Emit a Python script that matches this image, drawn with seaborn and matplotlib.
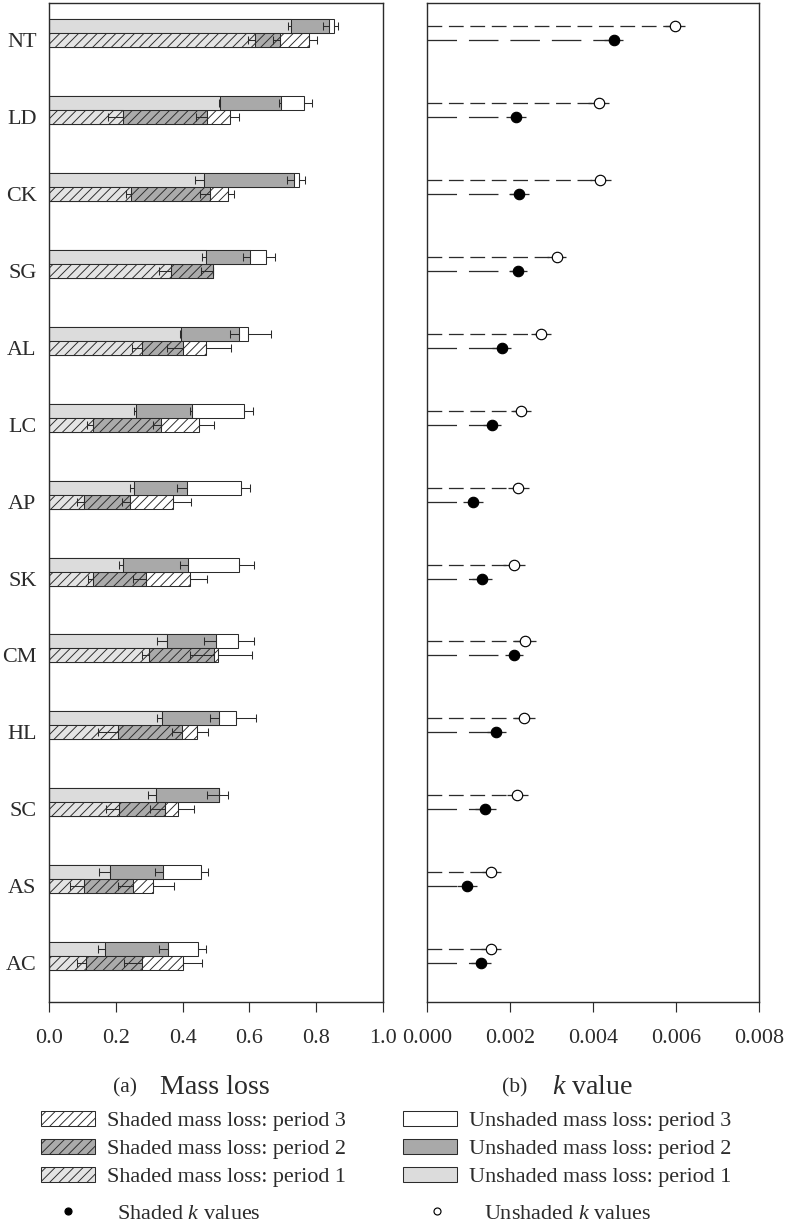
import numpy as np
import pandas as pd
import matplotlib
matplotlib.use("Agg")
import matplotlib.pyplot as plt
import seaborn as sns
from matplotlib.patches import Patch
from matplotlib.lines import Line2D

# -------------------------------------------------------
# DATA
# -------------------------------------------------------

sites = ["NT", "LD", "CK", "SG", "AL", "LC", "AP", "SK", "CM", "HL", "SC", "AS", "AC"]

# cumulative mass loss at the end of each period
unshaded_p1 = [0.726, 0.513, 0.463, 0.470, 0.395, 0.260, 0.255, 0.222, 0.354, 0.338, 0.320, 0.182, 0.168]
unshaded_p2 = [0.838, 0.695, 0.733, 0.603, 0.569, 0.428, 0.413, 0.416, 0.501, 0.508, 0.510, 0.342, 0.356]
unshaded_p3 = [0.853, 0.765, 0.748, 0.651, 0.595, 0.584, 0.575, 0.568, 0.565, 0.561, 0.510, 0.455, 0.446]
unshaded_e1 = [0.011, 0.005, 0.025, 0.012, 0.003, 0.005, 0.013, 0.012, 0.032, 0.015, 0.023, 0.033, 0.023]
unshaded_e2 = [0.017, 0.005, 0.020, 0.022, 0.028, 0.005, 0.030, 0.025, 0.036, 0.025, 0.037, 0.025, 0.028]
unshaded_e3 = [0.012, 0.023, 0.020, 0.025, 0.070, 0.027, 0.026, 0.045, 0.048, 0.058, 0.026, 0.020, 0.024]

shaded_p1 = [0.618, 0.222, 0.245, 0.364, 0.277, 0.130, 0.104, 0.132, 0.299, 0.205, 0.209, 0.104, 0.110]
shaded_p2 = [0.691, 0.473, 0.481, 0.490, 0.402, 0.335, 0.242, 0.290, 0.493, 0.398, 0.347, 0.250, 0.279]
shaded_p3 = [0.780, 0.541, 0.536, 0.490, 0.471, 0.450, 0.372, 0.421, 0.505, 0.444, 0.385, 0.312, 0.402]
shaded_e1 = [0.023, 0.045, 0.015, 0.034, 0.030, 0.018, 0.020, 0.015, 0.022, 0.058, 0.039, 0.042, 0.026]
shaded_e2 = [0.020, 0.032, 0.028, 0.034, 0.050, 0.023, 0.025, 0.038, 0.072, 0.030, 0.045, 0.043, 0.054]
shaded_e3 = [0.023, 0.027, 0.017, 0.000, 0.074, 0.043, 0.052, 0.052, 0.103, 0.031, 0.048, 0.063, 0.055]

# decomposition rate k
k_unshaded = [0.00598, 0.00414, 0.00418, 0.00313, 0.00275, 0.00228, 0.00221, 0.00210, 0.00237, 0.00235, 0.00218, 0.00156, 0.00154]
k_unshaded_err = [0.00024, 0.00026, 0.00026, 0.00023, 0.00025, 0.00024, 0.00026, 0.00026, 0.00026, 0.00025, 0.00025, 0.00024, 0.00024]
k_shaded = [0.00450, 0.00216, 0.00222, 0.00220, 0.00181, 0.00158, 0.00111, 0.00134, 0.00211, 0.00168, 0.00141, 0.00098, 0.00131]
k_shaded_err = [0.00022, 0.00024, 0.00024, 0.00022, 0.00023, 0.00022, 0.00024, 0.00024, 0.00022, 0.00024, 0.00025, 0.00024, 0.00024]

mass_ticks = [0.0, 0.2, 0.4, 0.6, 0.8, 1.0]
k_ticks = [0.000, 0.002, 0.004, 0.006, 0.008]

# -------------------------------------------------------
# STYLE
# -------------------------------------------------------

W, H, DPI = 787, 1225, 84
INK = "#2b2b2b"
HATCH = "///"

sns.set_theme(style="ticks")
plt.rcParams["font.family"] = ["Liberation Serif", "DejaVu Serif"]
plt.rcParams["mathtext.fontset"] = "custom"
plt.rcParams["mathtext.rm"] = "Liberation Serif"
plt.rcParams["mathtext.it"] = "Liberation Serif:italic"
plt.rcParams["hatch.linewidth"] = 0.8
plt.rcParams["text.color"] = INK
plt.rcParams["xtick.color"] = INK
plt.rcParams["ytick.color"] = INK
plt.rcParams["axes.edgecolor"] = INK


def fx(px):
    return px / W


def fy(py):
    return 1 - py / H


colors_u = ["#dcdcdc", "#a9a9a9", "#ffffff"]
colors_s = ["#e4e4e4", "#ababab", "#ffffff"]

fig = plt.figure(figsize=(W / DPI, H / DPI), dpi=DPI)
ax1 = fig.add_axes([fx(49.3), fy(1001.7), fx(382.7) - fx(49.3), fy(3.3) - fy(1001.7)])
ax2 = fig.add_axes([fx(426.7), fy(1001.7), fx(759) - fx(426.7), fy(3.3) - fy(1001.7)])

pos = np.arange(len(sites))
bar_h = 0.182
y_top, y_bot = -0.39, 12.594

# -------------------------------------------------------
# (a) MASS LOSS - stacked (overlaid cumulative) bars
# -------------------------------------------------------

layers = [(unshaded_p3, shaded_p3, 2), (unshaded_p2, shaded_p2, 1), (unshaded_p1, shaded_p1, 0)]
for u_vals, s_vals, i in layers:
    df = pd.DataFrame({
        "site": sites * 2,
        "loss": list(u_vals) + list(s_vals),
        "treatment": ["Unshaded"] * len(sites) + ["Shaded"] * len(sites),
    })
    sns.barplot(data=df, x="loss", y="site", hue="treatment", order=sites,
                hue_order=["Unshaded", "Shaded"], dodge=True, width=2 * bar_h,
                palette={"Unshaded": colors_u[i], "Shaded": colors_s[i]},
                saturation=1, errorbar=None, edgecolor=INK, linewidth=0.9,
                legend=False, ax=ax1)
    for p in ax1.containers[-1]:
        p.set_hatch(HATCH)

zeros = np.zeros(len(sites))
err_sets = [
    (unshaded_p1, unshaded_e1, -bar_h / 2, "in"), (unshaded_p2, unshaded_e2, -bar_h / 2, "in"),
    (unshaded_p3, unshaded_e3, -bar_h / 2, "out"),
    (shaded_p1, shaded_e1, bar_h / 2, "in"), (shaded_p2, shaded_e2, bar_h / 2, "in"),
    (shaded_p3, shaded_e3, bar_h / 2, "out"),
]
for vals, errs, off, side in err_sets:
    errs = np.array(errs)
    xerr = [errs, zeros] if side == "in" else [zeros, errs]
    ax1.errorbar(vals, pos + off, xerr=xerr, fmt="none", ecolor=INK,
                 elinewidth=0.9, capsize=3.4, capthick=0.9, zorder=5)

ax1.set_xlim(0, 1.0)
ax1.set_ylim(y_bot, y_top)
ax1.set_yticks(pos + bar_h / 2)
ax1.set_yticklabels(sites)
ax1.set_xticks(mass_ticks)
ax1.set_xticklabels([f"{t:.1f}" for t in mass_ticks])
ax1.set_xlabel("")
ax1.set_ylabel("")

# -------------------------------------------------------
# (b) k VALUES
# -------------------------------------------------------

ax2.hlines(pos - bar_h / 2, 0, k_unshaded, colors=INK, linewidth=1.1,
           linestyles=[(0, (11.5, 5.2))])
ax2.hlines(pos + bar_h / 2, 0, k_shaded, colors=INK, linewidth=1.1,
           linestyles=[(0, (23.0, 9.3))])
ax2.errorbar(k_unshaded, pos - bar_h / 2, xerr=k_unshaded_err, fmt="none",
             ecolor=INK, elinewidth=1.1, capsize=0, zorder=3)
ax2.errorbar(k_shaded, pos + bar_h / 2, xerr=k_shaded_err, fmt="none",
             ecolor=INK, elinewidth=1.1, capsize=0, zorder=3)
sns.scatterplot(x=k_unshaded, y=pos - bar_h / 2, ax=ax2, s=80, color="white",
                edgecolor="black", linewidth=1.0, zorder=4)
sns.scatterplot(x=k_shaded, y=pos + bar_h / 2, ax=ax2, s=80, color="black",
                edgecolor="black", linewidth=1.0, zorder=4)

ax2.set_xlim(0, 0.008)
ax2.set_ylim(y_bot, y_top)
ax2.set_xticks(k_ticks)
ax2.set_xticklabels([f"{t:.3f}" for t in k_ticks])
ax2.set_yticks([])

for ax in (ax1, ax2):
    for s in ax.spines.values():
        s.set_visible(True)
        s.set_linewidth(1.2)
        s.set_color(INK)
    ax.tick_params(axis="x", direction="out", length=8.6, width=1.0,
                   pad=15, labelsize=19, bottom=True, top=False)
    ax.tick_params(axis="y", length=0, pad=11, labelsize=19)
    ax.grid(False)

# -------------------------------------------------------
# PANEL TITLES + LEGEND
# -------------------------------------------------------

fig.text(fx(125), fy(1088), "(a)", ha="center", va="center", fontsize=18.5)
fig.text(fx(160), fy(1088), "Mass loss", ha="left", va="center", fontsize=24)
fig.text(fx(515), fy(1088), "(b)", ha="center", va="center", fontsize=18.5)
fig.text(fx(552), fy(1088), "$k$ value", ha="left", va="center", fontsize=24)

shaded_handles = [Patch(facecolor=colors_s[i], edgecolor=INK, hatch=HATCH, linewidth=0.9) for i in (2, 1, 0)]
unshaded_handles = [Patch(facecolor=colors_u[i], edgecolor=INK, linewidth=0.9) for i in (2, 1, 0)]
shaded_labels = [f"Shaded mass loss: period {i}" for i in (3, 2, 1)]
unshaded_labels = [f"Unshaded mass loss: period {i}" for i in (3, 2, 1)]

leg_kw = dict(frameon=False, loc="upper left", borderpad=0, borderaxespad=0,
              fontsize=19, handlelength=2.43, handleheight=0.63,
              handletextpad=0.55, labelspacing=0.36)
fig.legend(shaded_handles, shaded_labels, bbox_to_anchor=(fx(40.7), fy(1111)), **leg_kw)
fig.legend(unshaded_handles, unshaded_labels, bbox_to_anchor=(fx(403.3), fy(1111)), **leg_kw)

dot_kw = dict(frameon=False, loc="upper left", borderpad=0, borderaxespad=0,
              fontsize=19, handlelength=2.43)
fig.legend([Line2D([], [], marker="o", linestyle="none", color="black", markersize=6)],
           ["Shaded $k$ values"], bbox_to_anchor=(fx(40.7), fy(1203)),
           handletextpad=1.0, **dot_kw)
fig.legend([Line2D([], [], marker="o", linestyle="none", markerfacecolor="white",
                   markeredgecolor="black", markersize=6)],
           ["Unshaded $k$ values"], bbox_to_anchor=(fx(410), fy(1203)),
           handletextpad=0.9, **dot_kw)

fig.savefig("out.png", dpi=DPI)
